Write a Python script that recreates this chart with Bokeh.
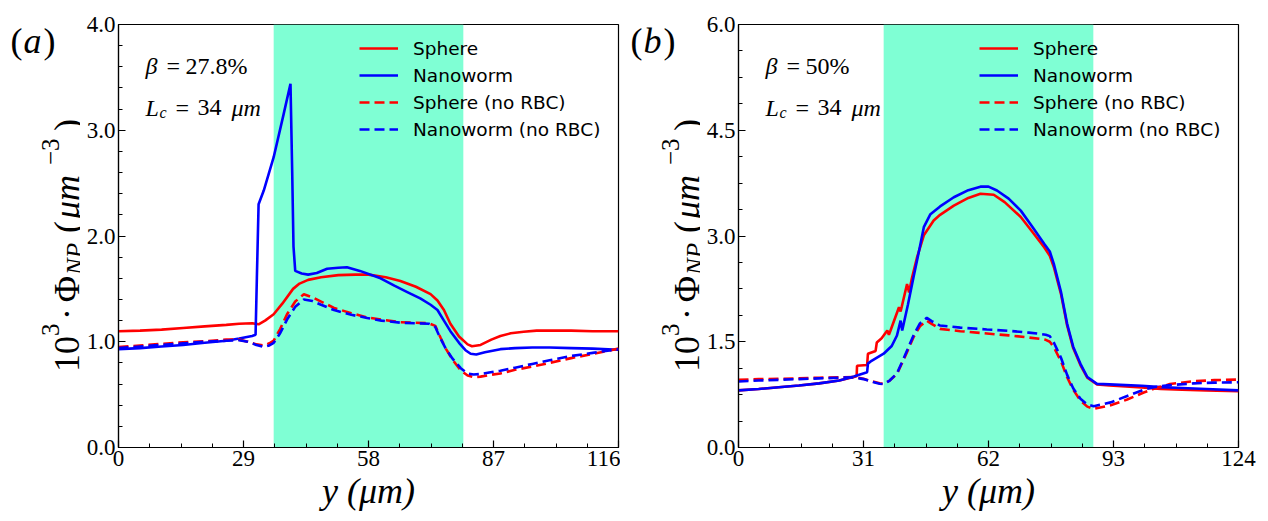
import math
from bokeh.plotting import figure
from bokeh.models import (Label, Legend, LegendItem, BoxAnnotation, FixedTicker,
                          PrintfTickFormatter, Range1d)
from bokeh.layouts import row
from bokeh.embed import file_html
from bokeh.resources import INLINE

# ---------------- Panel (a) data : beta = 27.8 % ----------------
a_x_ticks = [0, 29, 58, 87, 116]
a_y_ticks = [0.0, 1.0, 2.0, 3.0, 4.0]
a_shade = [36, 80]
a_beta = "27.8%"

a_sph_x = [0, 5, 10, 15, 20, 25, 28, 31, 32.5, 34, 36, 38, 40.5, 42, 44, 47, 51, 55, 58, 62,
           65.4, 69, 72.4, 74, 75.5, 77, 79, 81, 82, 84, 86.5, 88.6, 91, 94, 97, 100, 105, 110, 116]
a_sph_y = [1.10, 1.105, 1.115, 1.13, 1.145, 1.16, 1.17, 1.175, 1.165, 1.20, 1.26, 1.36, 1.50, 1.55,
           1.585, 1.61, 1.63, 1.635, 1.635, 1.61, 1.575, 1.52, 1.45, 1.39, 1.30, 1.17, 1.05, 0.975,
           0.958, 0.97, 1.02, 1.055, 1.08, 1.095, 1.105, 1.105, 1.105, 1.10, 1.10]

a_nw_x = [0, 5, 10, 15, 20, 25, 28, 31, 31.8, 32.1, 32.5, 33.7, 36, 38.3, 39.9, 40.3, 40.6, 41, 42.5, 44,
          46, 48.4, 51, 53, 56, 60.8, 64, 67, 70, 72.4, 74, 75.5, 77, 79, 80.5, 81.7, 83, 85, 88.6, 92,
          96, 100, 105, 110, 116]
a_nw_y = [0.93, 0.94, 0.955, 0.97, 0.99, 1.01, 1.03, 1.055, 1.066, 1.6, 2.30, 2.43, 2.745, 3.15, 3.44,
          2.6, 1.9, 1.67, 1.645, 1.635, 1.65, 1.69, 1.70, 1.705, 1.67, 1.60, 1.53, 1.47, 1.41, 1.35,
          1.30, 1.20, 1.10, 0.99, 0.92, 0.886, 0.88, 0.90, 0.93, 0.94, 0.945, 0.945, 0.94, 0.935, 0.925]

a_dash_x = [0, 5, 10, 15, 20, 25, 28, 30, 32, 33.7, 35, 36, 37.5, 39.1, 41, 43, 45, 47, 50, 54,
            57.7, 61, 65.4, 69, 72, 73.5, 74.7, 76, 77.5, 79.4, 81, 82.4, 84, 86, 88.6, 92, 96, 100,
            105, 110, 116]
a_sph0_y = [0.95, 0.965, 0.98, 0.995, 1.005, 1.02, 1.02, 1.0, 0.975, 0.965, 0.985, 1.01, 1.12, 1.26,
            1.38, 1.45, 1.42, 1.38, 1.32, 1.27, 1.23, 1.21, 1.185, 1.18, 1.175, 1.15, 1.04, 0.93,
            0.83, 0.73, 0.68, 0.665, 0.67, 0.685, 0.70, 0.735, 0.765, 0.80, 0.845, 0.885, 0.935]
a_nw0_y = [0.94, 0.955, 0.97, 0.985, 1.0, 1.01, 1.015, 1.0, 0.97, 0.95, 0.965, 0.99, 1.08, 1.21,
           1.33, 1.40, 1.385, 1.35, 1.30, 1.255, 1.225, 1.20, 1.18, 1.175, 1.17, 1.14, 1.03, 0.93,
           0.84, 0.75, 0.70, 0.69, 0.695, 0.71, 0.725, 0.755, 0.79, 0.825, 0.865, 0.895, 0.93]

# ---------------- Panel (b) data : beta = 50 % ----------------
b_x_ticks = [0, 31, 62, 93, 124]
b_y_ticks = [0.0, 1.5, 3.0, 4.5, 6.0]
b_shade = [36, 88]
b_beta = "50%"

b_sph_x = [0, 5, 10, 15, 20, 25, 28.6, 29.3, 29.4, 31.9, 32.1, 34.0, 34.3, 35.5, 36.9, 37.3, 37.7,
           39.8, 40.2, 40.5, 41.8, 42.3, 43, 44.3, 45.96, 48.4, 50, 53.4, 57, 60, 63.3, 66, 70, 73,
           75.8, 77.2, 78.2, 80, 81.5, 83, 84.8, 86.5, 88.9, 92, 96, 100, 104.7, 110, 116, 124]
b_sph_y = [0.81, 0.83, 0.855, 0.88, 0.91, 0.95, 1.0, 1.01, 1.16, 1.17, 1.33, 1.37, 1.49, 1.55, 1.66,
           1.60, 1.66, 1.99, 1.93, 2.0, 2.32, 2.2, 2.40, 2.70, 3.01, 3.22, 3.30, 3.43, 3.54, 3.60,
           3.585, 3.48, 3.27, 3.05, 2.84, 2.72, 2.56, 2.17, 1.73, 1.41, 1.17, 0.99, 0.895, 0.88,
           0.865, 0.85, 0.832, 0.82, 0.81, 0.80]

b_nw_x = [0, 5, 10, 15, 20, 25, 28.6, 31.9, 32.1, 33, 36, 38, 39.3, 40.2, 40.6, 42, 43.4, 45, 45.96,
          47.6, 50, 53.4, 57, 60, 62, 64.1, 67, 70, 73, 75.8, 77.2, 78.2, 80, 81.5, 83, 84.8, 86.5,
          88.9, 92, 96, 100, 104.7, 110, 116, 124]
b_nw_y = [0.81, 0.83, 0.855, 0.88, 0.91, 0.95, 1.007, 1.068, 1.19, 1.23, 1.33, 1.44, 1.589, 1.80,
          1.66, 2.02, 2.416, 2.85, 3.125, 3.31, 3.42, 3.55, 3.65, 3.70, 3.70, 3.645, 3.53, 3.36,
          3.12, 2.89, 2.78, 2.605, 2.20, 1.754, 1.43, 1.187, 1.00, 0.903, 0.895, 0.885, 0.875,
          0.856, 0.845, 0.83, 0.81]

b_dash_x = [0, 5, 10, 15, 20, 25, 28.6, 31, 33, 35, 36, 37.5, 39.3, 41, 43.4, 45, 46.7, 48, 50, 55,
            61.6, 67, 72, 75, 76.2, 77.2, 78.2, 80, 81.5, 83, 84.8, 86.5, 88.1, 92.3, 96.4, 100.5,
            103, 107, 112.9, 118, 124]
b_sph0_y = [0.96, 0.97, 0.975, 0.98, 0.99, 0.995, 1.0, 0.975, 0.94, 0.91, 0.903, 0.95, 1.045, 1.25,
            1.565, 1.72, 1.80, 1.75, 1.683, 1.65, 1.617, 1.59, 1.56, 1.54, 1.527, 1.50, 1.423, 1.22,
            0.997, 0.82, 0.667, 0.58, 0.549, 0.60, 0.68, 0.78, 0.832, 0.90, 0.94, 0.955, 0.964]
b_nw0_y = [0.936, 0.95, 0.96, 0.97, 0.98, 0.99, 0.995, 0.97, 0.935, 0.905, 0.90, 0.95, 1.05, 1.27,
           1.59, 1.76, 1.84, 1.79, 1.73, 1.70, 1.674, 1.655, 1.63, 1.61, 1.60, 1.58, 1.49, 1.27,
           1.03, 0.84, 0.69, 0.61, 0.585, 0.64, 0.73, 0.82, 0.855, 0.885, 0.91, 0.92, 0.926]

legend_labels = ["Sphere", "Nanoworm", "Sphere (no RBC)", "Nanoworm (no RBC)"]
x_label = "y (μm)"

SERIF = "Liberation Serif"
SANS = "DejaVu Sans"
RED = "#ff0000"
BLUE = "#0000ff"
SHADE = "#7fffd4"

H = 521
YLAB_W = 80
STRIP_CENTER = 237   # where the label strip's vertical centre lands on the page (measured)


def minor_between(ticks, n):
    out = []
    for a, b in zip(ticks[:-1], ticks[1:]):
        step = (b - a) / n
        out += [a + step * k for k in range(1, n)]
    return out


def txt(p, x, y, text, size, style="normal", angle=0.0, font=SERIF, dx=0, dy=0, align="left"):
    p.add_layout(Label(x=x, y=y, x_offset=dx, y_offset=dy, text=text, text_font=font,
                       text_font_size=f"{size}px", text_font_style=style, text_color="black",
                       angle=angle, text_align=align, text_baseline="alphabetic"))


def ylabel_strip(tag):
    s = figure(width=YLAB_W, height=H, x_range=Range1d(0, YLAB_W), y_range=Range1d(0, H),
               output_backend="svg", toolbar_location=None, x_axis_location=None,
               y_axis_location=None, min_border=0, min_border_left=0, min_border_right=0,
               min_border_top=0, min_border_bottom=0, outline_line_color=None,
               background_fill_color="white", border_fill_color="white")
    s.xgrid.visible = False
    s.ygrid.visible = False
    cy = H / 2.0

    def put(x, y_pos, text, size, style="normal", angle=0.0, align="left"):
        txt(s, x, cy, text, size, style, angle, dy=STRIP_CENTER - y_pos, align=align)

    put(10, 42, "(", 36)
    put(23, 42, tag, 36, "italic")
    put(43, 42, ")", 36)
    up = math.pi / 2
    # rotated pieces, each anchored at its upper end (text runs upward into the anchor)
    put(66, 337, "10", 36, angle=up, align="right")
    put(50, 324.5, "3", 25, angle=up, align="right")
    put(66, 309, "·", 36, angle=up, align="right")
    put(66, 277, "Φ", 36, angle=up, align="right")
    put(75, 244, "NP", 25, "italic", angle=up, align="right")
    put(66, 222, "(", 36, angle=up, align="right")
    put(66, 176, "μm", 36, "italic", angle=up, align="right")
    put(50, 139.5, "−3", 25, angle=up, align="right")
    put(66, 120, ")", 36, angle=up, align="right")
    return s


def make_panel(xticks, yticks, yminor_n, shade, series, beta, right_border):
    xmax, ymax = xticks[-1], yticks[-1]
    p = figure(width=118 - YLAB_W + 500 + right_border, height=H,
               x_range=Range1d(0, xmax), y_range=Range1d(0, ymax),
               output_backend="svg", toolbar_location=None,
               min_border_left=118 - YLAB_W, min_border_right=right_border, min_border_top=24,
               min_border_bottom=H - 24 - 423, background_fill_color="white",
               border_fill_color="white")
    p.xgrid.visible = False
    p.ygrid.visible = False
    p.outline_line_color = "black"
    p.outline_line_width = 1.2

    p.add_layout(BoxAnnotation(left=shade[0], right=shade[1], fill_color=SHADE, fill_alpha=1.0,
                               line_alpha=0, level="underlay"))

    p.xaxis.ticker = FixedTicker(ticks=xticks, minor_ticks=minor_between(xticks, 4))
    p.yaxis.ticker = FixedTicker(ticks=yticks, minor_ticks=minor_between(yticks, yminor_n))
    p.xaxis.formatter = PrintfTickFormatter(format="%d")
    p.yaxis.formatter = PrintfTickFormatter(format="%.1f")
    for ax in (p.xaxis[0], p.yaxis[0]):
        ax.axis_line_color = "black"
        ax.axis_line_width = 1.2
        ax.major_tick_in = 7
        ax.major_tick_out = 0
        ax.minor_tick_in = 4
        ax.minor_tick_out = 0
        ax.major_tick_line_color = "black"
        ax.minor_tick_line_color = "black"
        ax.major_tick_line_width = 1.2
        ax.minor_tick_line_width = 1.0
        ax.major_label_text_font = SERIF
        ax.major_label_text_font_size = "23px"
        ax.major_label_text_color = "black"
        ax.major_label_standoff = 3
    p.yaxis.axis_label = None
    xa = p.xaxis[0]
    xa.axis_label = x_label
    xa.axis_label_text_font = SERIF
    xa.axis_label_text_font_size = "36px"
    xa.axis_label_text_font_style = "italic"
    xa.axis_label_text_color = "black"
    xa.axis_label_standoff = 2

    renderers = []
    styles = [(RED, "solid"), (BLUE, "solid"), (RED, "10 5"), (BLUE, "10 5")]
    for (xs, ys), (col, dash) in zip(series, styles):
        renderers.append(p.line(xs, ys, line_color=col, line_width=2.6, line_dash=dash))

    items = [LegendItem(label=lab, renderers=[r]) for lab, r in zip(legend_labels, renderers)]
    legend = Legend(items=items, location=(241, 306), glyph_width=39, glyph_height=24,
                    label_height=24, spacing=3, padding=0, margin=0, label_standoff=15,
                    label_text_font=SANS, label_text_font_size="18.5px",
                    label_text_color="black", border_line_alpha=0, background_fill_alpha=0)
    p.add_layout(legend)

    # in-plot annotations, anchored at frame top-left, offsets in pixels
    tl = (0, ymax)
    txt(p, *tl, "β", 24, "italic", dx=27, dy=-41)
    txt(p, *tl, "=", 24, dx=48, dy=-41)
    txt(p, *tl, beta, 24, dx=67, dy=-41)
    txt(p, *tl, "L", 24, "italic", dx=27, dy=-83)
    txt(p, *tl, "c", 16, "italic", dx=41, dy=-88)
    txt(p, *tl, "=", 24, dx=57, dy=-83)
    txt(p, *tl, "34", 24, dx=79, dy=-83)
    txt(p, *tl, "μm", 24, "italic", dx=113, dy=-83)
    return p


pa = make_panel(a_x_ticks, a_y_ticks, 5, a_shade,
                [(a_sph_x, a_sph_y), (a_nw_x, a_nw_y), (a_dash_x, a_sph0_y), (a_dash_x, a_nw0_y)],
                a_beta, 2)
pb = make_panel(b_x_ticks, b_y_ticks, 4, b_shade,
                [(b_sph_x, b_sph_y), (b_nw_x, b_nw_y), (b_dash_x, b_sph0_y), (b_dash_x, b_nw0_y)],
                b_beta, 30)

layout = row(ylabel_strip("a"), pa, ylabel_strip("b"), pb)
open("out.html", "w").write(file_html(layout, INLINE))
